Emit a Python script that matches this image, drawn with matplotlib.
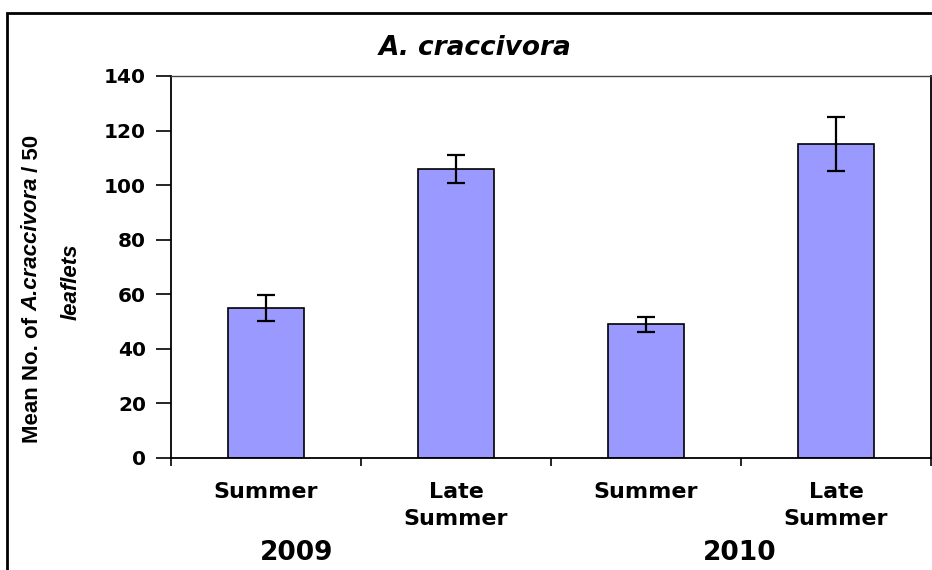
import matplotlib.pyplot as plt
from matplotlib.patches import Rectangle

# data
seasons = ["Summer", "Late\nSummer", "Summer", "Late\nSummer"]
years = ["2009", "2010"]
mean_counts = [55, 106, 49, 115]
std_errors = [4.7, 5.2, 2.7, 10]
y_ticks = [0, 20, 40, 60, 80, 100, 120, 140]

# the reference text is wide, so the wider DejaVu Sans is used for most labels
plt.rcParams["font.family"] = ["DejaVu Sans"]

fig = plt.figure(figsize=(9.32, 5.7), dpi=100)
ax = fig.add_axes([0.1835, 0.1965, 0.8154, 0.6702])

x = range(len(mean_counts))
ax.bar(x, mean_counts, width=0.4, color="#9999FF", edgecolor="black", linewidth=1.2,
       yerr=std_errors, capsize=6.5, error_kw={"elinewidth": 1.6, "capthick": 1.6, "ecolor": "black"})

ax.set_xlim(-0.5, 3.5)
ax.set_ylim(0, 140)
ax.set_yticks(y_ticks)
ax.set_yticklabels([str(t) for t in y_ticks], fontsize=14.5, fontweight="bold")
ax.tick_params(axis="y", direction="out", length=11, width=1.2, pad=7)

ax.set_xticks(list(x))
ax.set_xticklabels(seasons, fontsize=16, fontweight="bold", linespacing=1.45)
ax.tick_params(axis="x", which="major", length=0, pad=17)
ax.set_xticks([-0.5, 0.5, 1.5, 2.5, 3.5], minor=True)
ax.tick_params(axis="x", which="minor", direction="out", length=6, width=1.2)

for side in ["left", "bottom", "right"]:
    ax.spines[side].set_linewidth(1.3)
ax.spines["top"].set_linewidth(1.0)
ax.spines["top"].set_color("#444444")

# year labels under the season groups
fig.text(297 / 932, 1 - 553 / 570, years[0], fontsize=19, fontweight="bold", ha="center", va="center")
fig.text(740 / 932, 1 - 553 / 570, years[1], fontsize=19, fontweight="bold", ha="center", va="center")

# title
fig.text(475 / 932, 1 - 48 / 570, "A. craccivora", fontsize=19, fontweight="bold",
         style="italic", ha="center", va="center")

# y label, first line built from pieces so the species name can be italic
renderer = fig.canvas.get_renderer()
pieces = [("Mean No. of ", "normal"), ("A.craccivora", "italic"), (" / 50", "normal")]
label_kw = dict(fontsize=16, family="Liberation Sans", fontweight="bold", rotation=90,
                rotation_mode="anchor", ha="left", va="center")
texts = [fig.text(0, 0, s, style=st, **label_kw) for s, st in pieces]
lengths = [t.get_window_extent(renderer).height for t in texts]
y_pos = 570 - 289 - sum(lengths) / 2
for t, h in zip(texts, lengths):
    t.set_position((32 / 932, y_pos / 570))
    y_pos += h
fig.text(71 / 932, 1 - 282 / 570, "leaflets", fontsize=16, family="Liberation Sans", fontweight="bold",
         style="italic", rotation=90, ha="center", va="center")

# outer frame, cut off at the right and bottom
fig.patches.append(Rectangle((7 / 932, -0.1), 1.2, 1 - 13 / 570 + 0.1, transform=fig.transFigure,
                             fill=False, edgecolor="black", linewidth=2))

fig.savefig("out.png", dpi=100)
